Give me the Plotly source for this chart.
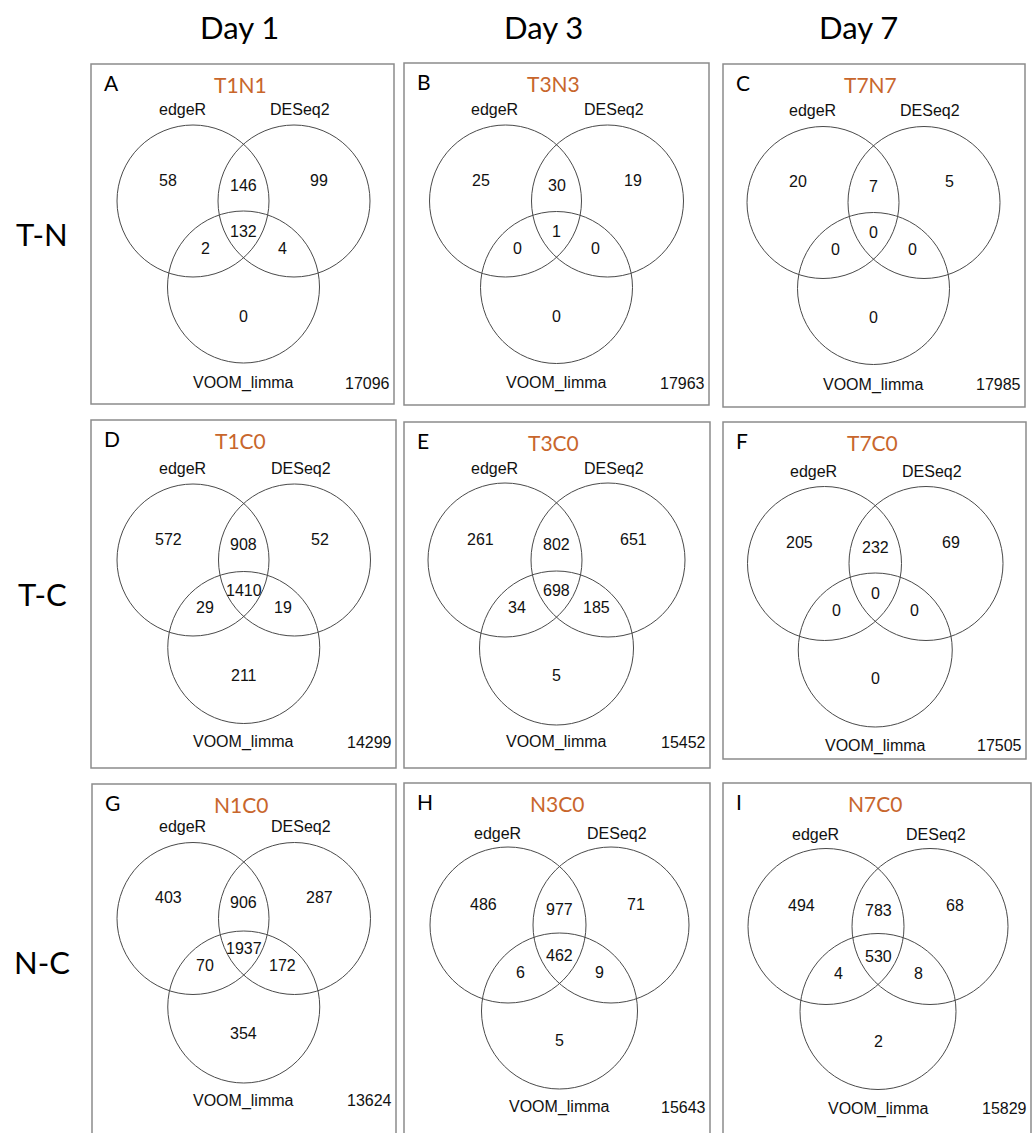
import plotly.graph_objects as go

# ---------------- data ----------------
day_labels = ["Day 1", "Day 3", "Day 7"]
row_labels = ["T-N", "T-C", "N-C"]
panel_letters = ["A", "B", "C", "D", "E", "F", "G", "H", "I"]
comparisons = ["T1N1", "T3N3", "T7N7", "T1C0", "T3C0", "T7C0", "N1C0", "N3C0", "N7C0"]
set_names = ["edgeR", "DESeq2", "VOOM_limma"]

edger_only = [58, 25, 20, 572, 261, 205, 403, 486, 494]
deseq2_only = [99, 19, 5, 52, 651, 69, 287, 71, 68]
edger_deseq2 = [146, 30, 7, 908, 802, 232, 906, 977, 783]
all_three = [132, 1, 0, 1410, 698, 0, 1937, 462, 530]
edger_voom = [2, 0, 0, 29, 34, 0, 70, 6, 4]
deseq2_voom = [4, 0, 0, 19, 185, 0, 172, 9, 8]
voom_only = [0, 0, 0, 211, 5, 0, 354, 5, 2]
not_de = [17096, 17963, 17985, 14299, 15452, 17505, 13624, 15643, 15829]

# ---------------- layout (pixel positions of panels) ----------------
W, H = 1033, 1133
box_x0 = [91, 404, 723, 91, 404, 723, 92, 404, 723]
box_y0 = [64, 63, 64, 420, 422, 422, 784, 783, 783]
box_x1 = [394, 709, 1025, 396, 710, 1026, 396, 710, 1031]
box_y1 = [404, 405, 407, 768, 768, 759, 1140, 1140, 1140]
# edgeR circle centre per panel
ecx = [193, 505.5, 823, 193, 505, 824.5, 193, 508, 826]
ecy = [201, 201, 202.5, 560, 560, 563.5, 918.5, 925, 926.5]
rad = [76, 76, 76, 76, 77, 77, 76, 78, 78]
sep = [101, 102, 101, 101.5, 103, 101.5, 101.5, 103, 104]
vdy = [86, 86.5, 86, 87.5, 88, 86.5, 88.5, 86, 85]

day_x = [239, 543, 858]
day_y = 27
row_x = 42
row_y = [234, 594, 962]

TITLE_COLOR = "#C8662C"
CIRCLE_COLOR = "#4a4a4a"
BOX_COLOR = "#8c8c8c"
NUM_FONT = "Liberation Sans, Arial, Helvetica, sans-serif"
HEAD_FONT = "Lato, Carlito, Open Sans, sans-serif"

fig = go.Figure()
fig.add_trace(go.Scatter(x=[0, W], y=[0, H], mode="markers",
                         marker=dict(opacity=0), hoverinfo="skip", showlegend=False))

shapes = []
ann = []


def text(x, y, s, size, color="#111111", family=NUM_FONT, xanchor="center"):
    ann.append(dict(x=x, y=y, xref="x", yref="y", text=s, showarrow=False,
                    xanchor=xanchor, yanchor="middle",
                    font=dict(size=size, color=color, family=family)))


for i, d in enumerate(day_labels):
    text(day_x[i], day_y, d, 31, "#000000", HEAD_FONT)
for i, r in enumerate(row_labels):
    text(row_x, row_y[i], r, 31, "#000000", HEAD_FONT)

for p in range(9):
    # panel frame
    shapes.append(dict(type="rect", xref="x", yref="y",
                       x0=box_x0[p], y0=box_y0[p], x1=box_x1[p], y1=box_y1[p],
                       line=dict(color=BOX_COLOR, width=1.5), fillcolor="rgba(0,0,0,0)"))
    cx, cy, r, d, vy = ecx[p], ecy[p], rad[p], sep[p], vdy[p]
    centres = [(cx, cy), (cx + d, cy), (cx + d / 2, cy + vy)]
    for (x, y) in centres:
        shapes.append(dict(type="circle", xref="x", yref="y",
                           x0=x - r, y0=y - r, x1=x + r, y1=y + r,
                           line=dict(color=CIRCLE_COLOR, width=1), fillcolor="rgba(0,0,0,0)"))
    mid = cx + d / 2
    # letter and comparison title
    text(box_x0[p] + 11, box_y0[p] + 18, panel_letters[p], 21, "#000000", HEAD_FONT, "left")
    text(mid - 3, box_y0[p] + 20, comparisons[p], 21, TITLE_COLOR, HEAD_FONT)
    # set names
    text(cx - 11, cy - 92, set_names[0], 16)
    text(cx + d + 6, cy - 92, set_names[1], 16)
    text(mid, cy + 182, set_names[2], 16)
    # region counts
    text(cx - 25, cy - 21, str(edger_only[p]), 16)
    text(mid, cy - 16, str(edger_deseq2[p]), 16)
    text(cx + d + 25, cy - 21, str(deseq2_only[p]), 16)
    text(mid, cy + 30, str(all_three[p]), 16)
    text(cx + 12, cy + 47, str(edger_voom[p]), 16)
    text(cx + d - 12, cy + 47, str(deseq2_voom[p]), 16)
    text(mid, cy + 115, str(voom_only[p]), 16)
    text(box_x1[p] - 2, cy + 182, str(not_de[p]), 16, xanchor="right")

fig.update_layout(
    width=W, height=H,
    margin=dict(l=0, r=0, t=0, b=0),
    paper_bgcolor="white", plot_bgcolor="white",
    xaxis=dict(range=[0, W], visible=False, fixedrange=True),
    yaxis=dict(range=[H, 0], visible=False, fixedrange=True),
    shapes=shapes, annotations=ann, showlegend=False,
)
fig.write_html(
    "out.html",
    config={"displayModeBar": False},
    post_script="document.body.style.margin='0px';document.body.style.overflow='hidden';",
)
